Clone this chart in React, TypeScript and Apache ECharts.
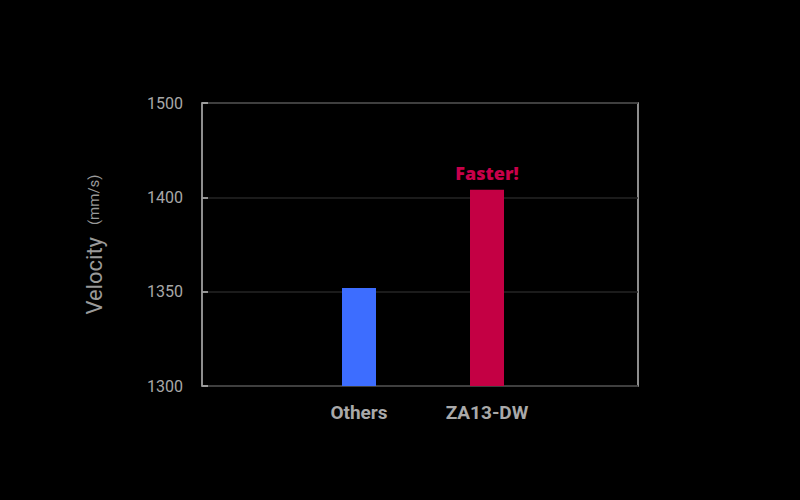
import React, { useEffect, useRef } from "react";
import * as echarts from "echarts";

const categories = ["Others", "ZA13-DW"];
const velocities = [1352, 1408];
const barColors = ["#3d6dff", "#c40044"];
const tickLabels = [1300, 1350, 1400, 1500];
const annotation = "Faster!";

// tick labels are equally spaced on the picture: map value piecewise onto tick index
function toPos(v: number): number {
  for (let i = 0; i < tickLabels.length - 1; i++) {
    const a = tickLabels[i];
    const b = tickLabels[i + 1];
    if (v <= b || i === tickLabels.length - 2) {
      return i + (v - a) / (b - a);
    }
  }
  return 0;
}

export default function App() {
  const ref = useRef<HTMLDivElement>(null);
  useEffect(() => {
    if (!ref.current) return;
    const chart = echarts.init(ref.current, null, { renderer: "svg" });
    const maxPos = tickLabels.length - 1;
    chart.setOption({
      animation: false,
      backgroundColor: "#000000",
      textStyle: { fontFamily: "Roboto" },
      grid: [
        {
          left: 202, top: 103, width: 436, height: 283,
          show: true, borderColor: "#bdbdbd", borderWidth: 1.5, backgroundColor: "transparent",
        },
        { left: 295, top: 103, width: 256, height: 283 },
      ],
      xAxis: [
        { type: "category", gridIndex: 0, data: [""], show: false },
        {
          type: "category", gridIndex: 1, data: categories,
          axisLine: { show: false }, axisTick: { show: false },
          axisLabel: { color: "#a9a9a9", fontSize: 19, fontWeight: "bold", margin: 17, fontFamily: "Roboto" },
        },
      ],
      yAxis: [
        {
          type: "value", gridIndex: 0, min: 0, max: maxPos, interval: 1,
          axisLine: { show: false },
          axisTick: { show: true, inside: true, length: 6, lineStyle: { color: "#bdbdbd", width: 1.5 } },
          splitLine: { show: true, lineStyle: { color: "#242424", width: 1.5 } },
          axisLabel: {
            color: "#a8a8a8", fontSize: 16, fontWeight: "normal", margin: 19, fontFamily: "Roboto",
            formatter: (v: number) => String(tickLabels[Math.round(v)] ?? ""),
          },
          name: "{a|Velocity}{s| }{b|(mm/s)}",
          nameLocation: "middle",
          nameGap: 97,
          nameRotate: 90,
          nameTextStyle: {
            rich: {
              a: { fontSize: 22, fontWeight: "normal", color: "#9a9a9a", fontFamily: "Roboto" },
              s: { fontSize: 22, width: 12 },
              b: { fontSize: 15, fontWeight: "normal", color: "#9a9a9a", fontFamily: "Roboto" },
            },
          },
        },
        { type: "value", gridIndex: 1, min: 0, max: maxPos, interval: 1, show: false, splitLine: { show: false } },
      ],
      series: [
        {
          type: "bar",
          xAxisIndex: 1,
          yAxisIndex: 1,
          barWidth: 34,
          data: velocities.map((v, i) => ({
            value: toPos(v),
            itemStyle: { color: barColors[i] },
            label: i === 1
              ? { show: true, position: "top", distance: 8, formatter: annotation, color: "#c8004a", fontSize: 18, fontWeight: 800, fontFamily: "Open Sans" }
              : { show: false },
          })),
        },
      ],
    });
    return () => chart.dispose();
  }, []);
  return <div ref={ref} style={{ width: 800, height: 500, position: "absolute", left: 0, top: 0 }} />;
}
